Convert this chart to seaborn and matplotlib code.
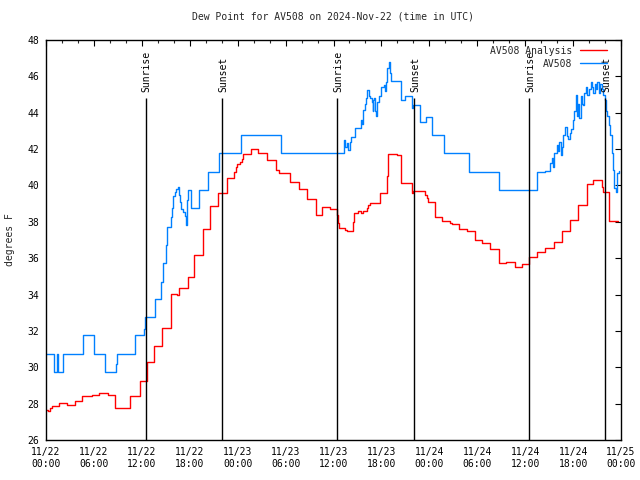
import matplotlib
matplotlib.use("Agg")
import matplotlib.pyplot as plt
import matplotlib.dates as mdates
import seaborn as sns
import pandas as pd
import numpy as np

# ---- data (hours after 2024-11-22 00:00 UTC, degrees F) ----
analysis_hours = [0.0, 0.3, 0.5, 0.7, 1.63, 2.59, 3.63, 4.55, 5.72, 6.68, 7.8, 8.64, 10.52, 11.77,
                  12.6, 13.56, 14.57, 15.65, 16.45, 16.65, 17.82, 18.57, 19.7, 20.54, 21.58, 22.7,
                  23.54, 23.75, 23.9, 24.3, 24.5, 24.63, 25.63, 26.59, 27.63, 28.76, 29.2, 30.55,
                  31.68, 32.72, 33.77, 34.6, 35.56, 36.48, 36.55, 36.73, 37.44, 37.73, 38.48, 38.6,
                  39.11, 39.5, 39.73, 40.15, 40.35, 40.57, 41.82, 42.66, 42.78, 43.91, 44.45, 45.79,
                  46.0, 47.46, 47.7, 47.88, 48.71, 49.55, 50.59, 50.8, 51.76, 52.68, 53.72, 54.64,
                  55.6, 56.72, 57.6, 58.73, 59.56, 60.45, 61.44, 62.48, 63.61, 64.57, 65.61, 66.66,
                  67.7, 68.54, 69.58, 69.8, 70.54, 71.6]
analysis_vals = [27.65, 27.6, 27.75, 27.87, 28.02, 27.95, 28.13, 28.44, 28.5, 28.56, 28.46, 27.74, 28.4, 29.26,
                 30.3, 31.17, 32.14, 34.03, 33.95, 34.34, 34.98, 36.17, 37.6, 38.87, 39.6, 40.39,
                 40.75, 41.0, 41.16, 41.3, 41.44, 41.73, 41.99, 41.77, 41.4, 40.85, 40.7, 40.17,
                 39.8, 39.25, 38.37, 38.83, 38.7, 38.4, 37.92, 37.64, 37.56, 37.49, 38.0, 38.47,
                 38.6, 38.47, 38.6, 38.74, 38.9, 39.05, 39.57, 40.5, 41.73, 41.7, 40.12, 39.57,
                 39.7, 39.5, 39.3, 39.1, 38.25, 38.06, 37.95, 37.86, 37.6, 37.49, 37.0, 36.82,
                 36.49, 35.72, 35.77, 35.53, 35.68, 36.05, 36.32, 36.54, 36.87, 37.49, 38.1, 38.92,
                 40.06, 40.3, 39.9, 39.62, 38.06, 38.06]

station_hours = [0.0, 1.04, 1.4, 1.55, 2.09, 4.59, 6.05, 7.39, 8.77, 8.9, 11.14, 12.27, 12.45, 13.6,
                 14.35, 14.6, 15.03, 15.2, 15.6, 15.75, 15.9, 16.1, 16.3, 16.57, 16.7, 16.78, 16.9,
                 17.1, 17.4, 17.57, 17.7, 17.82, 18.1, 19.2, 20.24, 21.7, 24.4, 29.45, 37.35, 37.5,
                 37.65, 37.73, 37.85, 38.05, 38.19, 38.69, 39.4, 39.53, 39.65, 39.94, 40.1, 40.25,
                 40.5, 40.6, 40.78, 40.9, 41.0, 41.11, 41.2, 41.35, 41.5, 41.7, 42.0, 42.32, 42.45,
                 42.57, 42.7, 42.95, 43.05, 43.2, 44.45, 44.95, 45.79, 45.95, 46.85, 47.6, 48.3,
                 49.88, 53.0, 56.72, 61.44, 62.5, 63.11, 63.32, 63.45, 63.55, 63.65, 63.95, 64.1,
                 64.28, 64.45, 64.57, 64.78, 64.99, 65.2, 65.4, 65.61, 65.8, 66.03, 66.15, 66.32,
                 66.5, 66.66, 66.8, 66.95, 67.1, 67.25, 67.37, 67.62, 67.8, 68.0, 68.2, 68.4, 68.55,
                 68.74, 68.9, 69.04, 69.2, 69.37, 69.6, 69.79, 70.0, 70.15, 70.29, 70.45, 70.6,
                 70.84, 71.04, 71.16, 71.33, 71.46, 71.71]
station_vals = [30.73, 29.72, 30.73, 29.72, 30.73, 31.76, 30.73, 29.72, 30.2, 30.73, 31.76, 32.1, 32.75, 33.74,
                34.71, 35.72, 36.7, 37.73, 38.25, 38.74, 39.4, 39.66, 39.8, 39.93, 39.5, 39.1, 38.7,
                38.55, 38.3, 37.82, 39.2, 39.75, 38.74, 39.75, 40.72, 41.77, 42.77, 41.77, 42.5, 42.1,
                42.2, 42.35, 41.95, 42.4, 42.68, 43.18, 43.6, 43.4, 44.15, 44.5, 44.79, 45.25,
                44.9, 44.8, 44.6, 44.1, 44.7, 44.8, 44.1, 43.8, 44.6, 44.9, 45.43, 45.5, 45.2,
                45.7, 46.44, 46.81, 46.2, 45.75, 44.7, 44.92, 44.24, 44.42, 43.5, 43.74, 42.77,
                41.77, 40.72, 39.73, 40.76, 40.8, 41.22, 41.49, 41.0, 41.3, 41.77, 42.22, 41.9,
                42.4, 41.7, 42.1, 42.77, 43.23, 42.7, 42.55, 42.9, 43.1, 43.6, 44.1, 44.97,
                43.8, 44.5, 43.7, 44.9, 44.5, 44.4, 45.1, 45.43, 45.0, 45.3, 45.71, 45.4, 45.1,
                45.6, 45.3, 45.71, 45.1, 45.6, 45.3, 45.0, 44.7, 44.1, 43.8, 43.32, 42.77,
                41.77, 40.85, 39.84, 39.65, 40.67, 40.8]

event_labels = ["Sunrise", "Sunset", "Sunrise", "Sunset", "Sunrise", "Sunset"]
event_hours = [12.52, 22.05, 36.46, 46.1, 60.5, 70.02]

title = "Dew Point for AV508 on 2024-Nov-22 (time in UTC)"
series_names = ["AV508 Analysis", "AV508"]
series_colors = ["#ff0000", "#0080ff"]

# ---- build frames ----
t0 = pd.Timestamp("2024-11-22 00:00")
def to_time(hours):
    return t0 + pd.to_timedelta(np.array(hours), unit="h")

df_a = pd.DataFrame({"time": to_time(analysis_hours), "dewpoint": analysis_vals})
df_s = pd.DataFrame({"time": to_time(station_hours), "dewpoint": station_vals})

sns.set_style("white")
mono = "DejaVu Sans Mono"
plt.rcParams["font.family"] = [mono, "DejaVu Sans"]

fig = plt.figure(figsize=(6.4, 4.8), dpi=100)
ax = fig.add_axes([46/640, 40/480, 575/640, 400/480])

sns.lineplot(data=df_a, x="time", y="dewpoint", ax=ax, color=series_colors[0], lw=1.0,
             drawstyle="steps-post", estimator=None, label=series_names[0])
sns.lineplot(data=df_s, x="time", y="dewpoint", ax=ax, color=series_colors[1], lw=1.0,
             drawstyle="steps-post", estimator=None, label=series_names[1])

ymin, ymax = 26, 48
ax.set_ylim(ymin, ymax)
ax.set_xlim(t0, t0 + pd.Timedelta(hours=72))

ev_times = to_time(event_hours)
ax.vlines(ev_times, ymin, 44.8, color="black", lw=1.0)
for t, lab in zip(ev_times, event_labels):
    ax.text(t + pd.Timedelta(minutes=6), 45.15, lab, rotation=90, ha="center", va="bottom",
            fontsize=7, family=mono, color="black")

ax.xaxis.set_major_locator(mdates.HourLocator(byhour=[0, 6, 12, 18]))
ax.xaxis.set_minor_locator(mdates.HourLocator(byhour=list(range(0, 24, 2))))
ax.xaxis.set_major_formatter(mdates.DateFormatter("%m/%d\n%H:%M"))
ax.set_yticks(np.arange(26, 49, 2))

ax.tick_params(axis="both", which="major", direction="in", length=4.5, width=0.8,
               top=True, right=True, labelsize=7, colors="black")
ax.tick_params(axis="both", which="minor", direction="in", length=2.5, width=0.8,
               top=True, right=True)
ax.tick_params(axis="x", which="major", pad=5)
ax.tick_params(axis="y", which="major", pad=5)
for lab in ax.get_xticklabels() + ax.get_yticklabels():
    lab.set_family(mono)

for s in ax.spines.values():
    s.set_visible(True)
    s.set_color("black")
    s.set_linewidth(1.0)

ax.set_xlabel("")
ax.set_ylabel("degrees F", fontsize=7, family=mono, labelpad=9)
ax.set_title(title, fontsize=7, family=mono, pad=15)

leg = ax.legend(loc="upper right", bbox_to_anchor=(0.983, 0.995), frameon=False,
                markerfirst=False, fontsize=7, handlelength=2.8, handletextpad=0.8,
                labelspacing=0.3, borderaxespad=0.0, prop={"family": mono, "size": 7})

fig.savefig("out.png", dpi=100)
